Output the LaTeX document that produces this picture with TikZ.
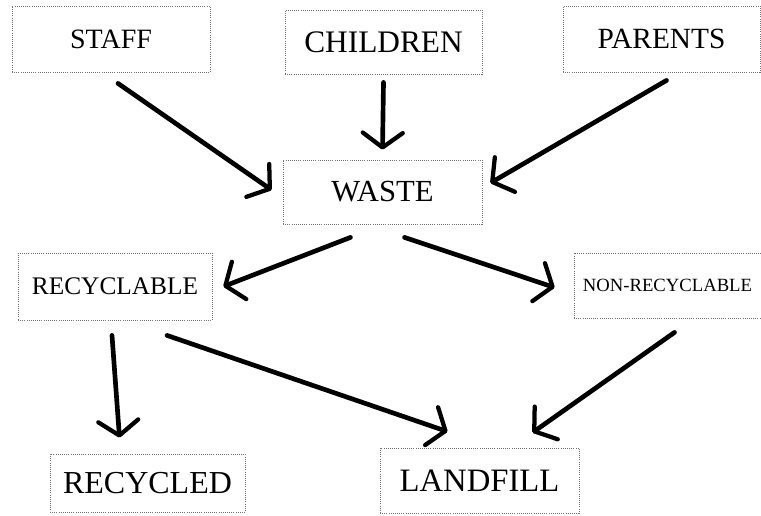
\documentclass[tikz,border=0pt]{standalone}
\usepackage{fontspec}
\setmainfont{Liberation Serif}
\usetikzlibrary{arrows.meta}
\begin{document}
\begin{tikzpicture}[x=0.75pt,y=-0.75pt,
  box/.style={rectangle,draw=black!55,densely dotted,line width=0.6pt,inner sep=0pt},
  flow/.style={line width=3.5pt,line cap=round,
    -{Straight Barb[length=11pt,width=30pt,line width=3.2pt,round]}}]
\useasboundingbox (0,0) rectangle (761,515);

\node[box,minimum width=148.5pt,minimum height=49.5pt,font=\fontsize{21}{25}\selectfont] (staff) at (111,39) {STAFF};
\node[box,minimum width=147.75pt,minimum height=48pt,font=\fontsize{23.5}{28}\selectfont] (children) at (383.5,42) {CHILDREN};
\node[box,minimum width=147.75pt,minimum height=49.5pt,font=\fontsize{22}{26}\selectfont] (parents) at (661.5,39) {PARENTS};
\node[box,minimum width=149.25pt,minimum height=48pt,font=\fontsize{23}{27}\selectfont] (waste) at (382.5,192) {WASTE};
\node[box,minimum width=145.5pt,minimum height=50.25pt,font=\fontsize{19}{23}\selectfont] (recyclable) at (115,286.5) {RECYCLABLE};
\node[box,minimum width=140.25pt,minimum height=48.75pt,font=\fontsize{14}{17}\selectfont] (nonrec) at (667.5,285.5) {NON-RECYCLABLE};
\node[box,minimum width=146.25pt,minimum height=43.5pt,font=\fontsize{24}{28}\selectfont] (recycled) at (147.5,483) {RECYCLED};
\node[box,minimum width=149.25pt,minimum height=48.75pt,font=\fontsize{24.5}{29}\selectfont] (landfill) at (479.5,480.5) {LANDFILL};

% arrows
\draw[flow] ([shift={(7,11)}]staff.south) -- ([shift={(-11,-2)}]waste.west);
\draw[flow] ([shift={(0,8)}]children.south) -- ([shift={(0,-10)}]waste.north);
\draw[flow] ([shift={(5,8)}]parents.south) -- ([shift={(8,-9)}]waste.east);
\draw[flow] ([shift={(-32,13)}]waste.south) -- ([shift={(11,0)}]recyclable.east);
\draw[flow] ([shift={(22,13)}]waste.south) -- ([shift={(-19,2)}]nonrec.west);
\draw[flow] ([shift={(-3,15)}]recyclable.south) -- ([shift={(-28,-16)}]recycled.north);
\draw[flow] ([shift={(52,15)}]recyclable.south) -- ([shift={(-32,-16)}]landfill.north);
\draw[flow] ([shift={(7,14)}]nonrec.south) -- ([shift={(53,-15)}]landfill.north);
\end{tikzpicture}
\end{document}
